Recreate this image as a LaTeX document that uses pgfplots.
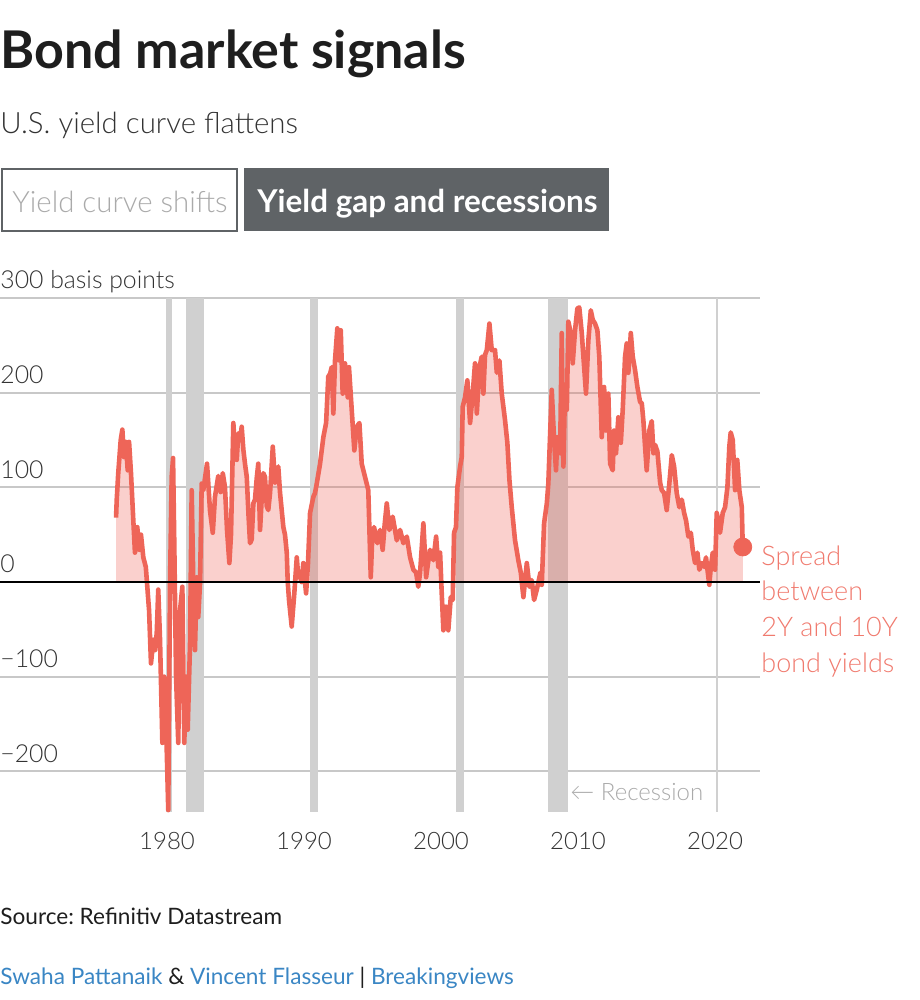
\documentclass[border=0pt]{standalone}
\usepackage{fontspec}
\setmainfont{Lato}
\IfFontExistsTF{Lato Light}{\newfontfamily\lightfont{Lato Light}}{\newfontfamily\lightfont{Lato}}
\usepackage{pgfplots}
\usepackage{pgfplotstable}
\pgfplotsset{compat=1.18}
\frenchspacing
\definecolor{linec}{RGB}{238,101,88}
\definecolor{labc}{RGB}{240,122,110}
\definecolor{bandc}{RGB}{208,208,208}
\definecolor{gridc}{RGB}{200,200,200}
\definecolor{titlec}{RGB}{30,30,30}
\definecolor{textc}{RGB}{51,51,51}
\definecolor{btnc}{RGB}{95,99,102}
\definecolor{btntext}{RGB}{170,170,170}
\definecolor{bluec}{RGB}{58,134,196}
\definecolor{recc}{RGB}{170,170,170}

\pgfplotstableread{
year val
1976.28 68
1976.33 87
1976.44 115
1976.62 150
1976.74 161
1976.86 132
1976.99 148
1977.13 118
1977.23 148
1977.37 115
1977.54 65
1977.66 31
1977.83 58
1977.98 34
1978.10 50
1978.27 26
1978.45 16
1978.54 -1
1978.69 -30
1978.83 -86
1979.00 -61
1979.12 -72
1979.25 -54
1979.36 -8
1979.49 -61
1979.66 -170
1979.80 -100
1979.93 -149
1980.09 -241
1980.22 -1
1980.34 111
1980.44 131
1980.53 41
1980.66 -100
1980.82 -170
1980.95 -30
1981.12 -5
1981.26 -170
1981.39 -100
1981.51 -156
1981.68 -65
1981.80 97
1981.92 -1
1982.04 -72
1982.17 5
1982.28 -37
1982.41 -1
1982.53 104
1982.65 97
1982.92 125
1983.14 75
1983.34 52
1983.50 90
1983.74 112
1983.91 95
1984.07 115
1984.23 100
1984.38 55
1984.55 20
1984.67 50
1984.84 168
1984.96 140
1985.09 129
1985.20 157
1985.33 150
1985.45 164
1985.57 140
1985.69 125
1985.82 111
1985.95 70
1986.06 41
1986.18 45
1986.30 83
1986.42 87
1986.55 110
1986.66 125
1986.79 55
1986.90 85
1987.03 115
1987.15 111
1987.28 80
1987.39 76
1987.52 94
1987.72 143
1987.88 105
1987.99 115
1988.12 122
1988.25 94
1988.49 58
1988.61 50
1988.74 31
1988.81 0
1988.91 -20
1989.10 -47
1989.29 -12
1989.47 26
1989.58 5
1989.71 10
1989.82 0
1989.95 20
1990.07 0
1990.15 -12
1990.29 20
1990.44 73
1990.68 90
1990.80 94
1990.93 104
1991.17 125
1991.41 153
1991.61 168
1991.77 217
1991.90 220
1992.02 227
1992.14 178
1992.26 234
1992.43 268
1992.58 234
1992.68 266
1992.82 199
1992.99 231
1993.19 195
1993.28 227
1993.48 182
1993.67 139
1993.85 164
1994.04 168
1994.21 125
1994.45 111
1994.69 97
1994.87 5
1994.96 40
1995.11 58
1995.35 41
1995.55 55
1995.74 34
1995.88 60
1996.04 83
1996.23 55
1996.47 69
1996.77 44
1997.01 55
1997.25 41
1997.50 48
1997.74 26
1997.98 13
1998.18 10
1998.34 -5
1998.47 10
1998.71 62
1998.91 5
1999.05 20
1999.20 34
1999.44 23
1999.64 48
1999.80 16
1999.93 31
2000.05 -12
2000.17 -51
2000.36 -26
2000.53 -51
2000.71 -16
2000.85 -19
2000.95 52
2001.09 58
2001.19 100
2001.39 122
2001.51 132
2001.58 185
2001.75 195
2001.92 213
2002.12 168
2002.31 199
2002.48 231
2002.61 178
2002.80 227
2002.97 238
2003.09 199
2003.21 240
2003.34 245
2003.53 273
2003.70 245
2003.94 245
2004.07 221
2004.26 234
2004.43 199
2004.67 171
2004.84 147
2004.99 108
2005.16 79
2005.40 44
2005.64 23
2005.82 10
2006.01 -16
2006.26 20
2006.45 -5
2006.62 2
2006.79 -19
2006.99 -8
2007.18 5
2007.26 10
2007.35 -3
2007.52 62
2007.72 83
2007.83 104
2007.91 136
2008.08 203
2008.25 150
2008.39 118
2008.49 153
2008.69 136
2008.81 263
2008.93 122
2009.05 206
2009.18 182
2009.29 275
2009.47 263
2009.61 231
2009.78 266
2009.95 289
2010.09 290
2010.27 263
2010.39 238
2010.58 199
2010.75 255
2010.93 287
2011.07 277
2011.24 273
2011.41 266
2011.55 238
2011.73 153
2011.90 206
2012.04 160
2012.21 199
2012.34 125
2012.53 118
2012.63 160
2012.77 136
2012.94 174
2013.12 147
2013.26 182
2013.43 238
2013.55 252
2013.67 221
2013.85 263
2013.99 238
2014.16 224
2014.33 206
2014.53 190
2014.65 189
2014.77 170
2014.89 143
2015.01 118
2015.20 160
2015.38 170
2015.50 136
2015.62 145
2015.79 138
2015.99 105
2016.11 97
2016.28 94
2016.47 76
2016.66 104
2016.84 134
2017.01 122
2017.20 94
2017.39 79
2017.57 87
2017.74 73
2017.88 65
2018.05 48
2018.23 52
2018.37 34
2018.54 20
2018.71 31
2018.85 13
2019.03 20
2019.20 16
2019.34 26
2019.51 5
2019.58 -3
2019.69 16
2019.83 31
2020.00 13
2020.12 73
2020.24 65
2020.36 52
2020.56 73
2020.73 79
2020.90 100
2021.04 143
2021.14 158
2021.29 150
2021.46 97
2021.62 129
2021.77 97
2021.95 79
2022.02 37
}\spread

\pgfplotstableread{
x lo hi
1979.95 -243 300
1980.38 -243 300
}\recA
\pgfplotstableread{
x lo hi
1981.39 -243 300
1982.70 -243 300
}\recB
\pgfplotstableread{
x lo hi
1990.44 -243 300
1991.02 -243 300
}\recC
\pgfplotstableread{
x lo hi
2001.09 -243 300
2001.68 -243 300
}\recD
\pgfplotstableread{
x lo hi
2007.81 -243 300
2009.27 -243 300
}\recE
\pgfplotstableread{
x lo hi
2020.07 -243 300
2020.20 -243 300
}\recF

\begin{document}
\begin{tikzpicture}
\begin{scope}[x=0.5bp,y=-0.5bp]
\path[use as bounding box] (0,0) rectangle (920,1000);
% title block
\node[anchor=base west, inner sep=0, text=titlec, font=\fontsize{26bp}{30bp}\selectfont\bfseries] at (0,68) {Bond market signals};
\node[anchor=base west, inner sep=0, text=textc, font=\fontsize{14.7bp}{17bp}\selectfont\lightfont] at (0,133) {U.S. yield curve flattens};
% buttons
\draw[btnc, line width=1bp, fill=white] (2,169) rectangle (237,231);
\node[anchor=base west, inner sep=0, text=btntext, font=\fontsize{14.7bp}{17bp}\selectfont\lightfont] at (12,212) {Yield curve shifts};
\fill[btnc] (244,168) rectangle (609,231);
\node[anchor=base west, inner sep=0, text=white, font=\fontsize{15.7bp}{18bp}\selectfont\bfseries] at (257,212) {Yield gap and recessions};
\end{scope}

\begin{scope}[overlay]
\begin{axis}[
  at={(0bp,-406bp)}, anchor=south west,
  scale only axis, width=380bp, height=257bp,
  xmin=1967.81, xmax=2023.28, ymin=-243, ymax=300,
  axis line style={draw=none},
  tick style={draw=none},
  major tick length=0,
  ytick={-200,-100,100,200,300},
  yticklabels={},
  ymajorgrids,
  grid style={gridc, line width=0.9bp},
  xtick={1980,1990,2000,2010,2020},
  /pgf/number format/assume math mode=true,
  /pgf/number format/1000 sep={},
  xticklabel style={text=textc, font=\fontsize{12bp}{14bp}\selectfont\lightfont, yshift=-6.5bp},
  clip=false,
]
% recession bands
\addplot[fill=bandc, draw=none] table[x=x,y=hi] {\recA} |- (axis cs:1979.95,-243) -- cycle;
\addplot[fill=bandc, draw=none] table[x=x,y=hi] {\recB} |- (axis cs:1981.39,-243) -- cycle;
\addplot[fill=bandc, draw=none] table[x=x,y=hi] {\recC} |- (axis cs:1990.44,-243) -- cycle;
\addplot[fill=bandc, draw=none] table[x=x,y=hi] {\recD} |- (axis cs:2001.09,-243) -- cycle;
\addplot[fill=bandc, draw=none] table[x=x,y=hi] {\recE} |- (axis cs:2007.81,-243) -- cycle;
\addplot[fill=bandc, draw=none] table[x=x,y=hi] {\recF} |- (axis cs:2020.07,-243) -- cycle;
% area
\addplot[fill=linec, fill opacity=0.3, draw=none, y filter/.expression={max(y,0)}] table[x=year,y=val] {\spread} \closedcycle;
% line
\addplot[linec, line width=2.3bp, line join=round] table[x=year,y=val] {\spread};
% zero line
\addplot[black, line width=1bp] coordinates {(1967.81,0) (2023.28,0)};
% end dot
\addplot[only marks, mark=*, mark size=4.5bp, mark options={fill=linec, draw=linec}] coordinates {(2022.02,37)};
\end{axis}
\end{scope}

\begin{scope}[x=0.5bp,y=-0.5bp]
% y labels
\begin{scope}[every node/.style={anchor=base west, inner sep=0, text=textc, font=\fontsize{12.4bp}{14bp}\selectfont\lightfont}]
\node at (0,288) {300 basis points};
\node at (0,383) {200};
\node at (0,478) {100};
\node at (0,572) {0};
\node at (0,667) {−100};
\node at (0,762) {−200};
\end{scope}
% series label
\begin{scope}[every node/.style={anchor=base west, inner sep=0, text=labc, font=\fontsize{13.5bp}{16bp}\selectfont\lightfont}]
\node at (761,565) {Spread};
\node at (761,600) {between};
\node at (761,636) {2Y and 10Y};
\node at (761,672) {bond yields};
\end{scope}
\node[anchor=base west, inner sep=0, text=recc, font=\fontsize{12bp}{14bp}\selectfont\lightfont] at (570,800) {← Recession};
% footer
\node[anchor=base west, inner sep=0, text=titlec, font=\fontsize{11.3bp}{14bp}\selectfont] at (0,924) {Source: Refinitiv Datastream};
\node[anchor=base west, inner sep=0, font=\fontsize{11.3bp}{14bp}\selectfont] at (0,984) {\textcolor{bluec}{Swaha Pattanaik} \textcolor{titlec}{\&} \textcolor{bluec}{Vincent Flasseur} \textcolor{titlec}{|} \textcolor{bluec}{Breakingviews}};
\end{scope}
\end{tikzpicture}
\end{document}
